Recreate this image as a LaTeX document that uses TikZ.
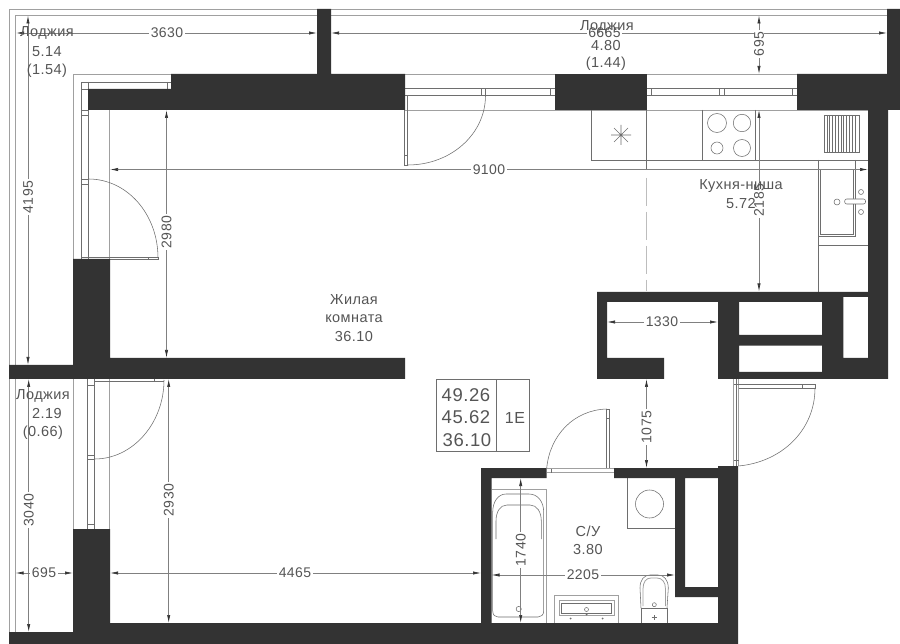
\documentclass[tikz,border=0pt]{standalone}
\usepackage{fontspec}
\setmainfont{Liberation Sans}[LetterSpace=3]
\usetikzlibrary{arrows.meta}
\definecolor{wallc}{HTML}{333333}
\definecolor{inkc}{HTML}{555555}
\definecolor{linec}{HTML}{6E6E6E}
\definecolor{softc}{HTML}{A0A0A0}
\tikzset{
  wall/.style={fill=wallc,draw=none},
  thin line/.style={draw=linec,line width=.55pt},
  soft line/.style={draw=softc,line width=.8pt},
  pale dash/.style={draw=softc!70,line width=.8pt,dash pattern=on 28pt off 6pt},
  dim line/.style={draw=softc!80!black,line width=.65pt,{Latex[length=8pt,width=3.2pt,color=wallc]}-{Latex[length=8pt,width=3.2pt,color=wallc]}},
  dim label/.style={font=\fontsize{14}{16}\selectfont,text=inkc,fill=white,inner xsep=1.5pt,inner ysep=0pt},
  room label/.style={font=\fontsize{14.5}{16}\selectfont,text=inkc,inner sep=0pt},
  table label/.style={font=\fontsize{18.5}{20}\selectfont,text=inkc,inner sep=0pt},
}
\newcommand{\hdim}[5]{\draw[dim line] (#2,#1) -- (#3,#1); \node[dim label] (#5) at (#4,#1) {#5};}
\newcommand{\vdim}[5]{\draw[dim line] (#1,#2) -- (#1,#3); \node[dim label,rotate=90] (#5) at (#1,#4) {#5};}
\begin{document}
\begin{tikzpicture}[x=1pt,y=-1pt]
\useasboundingbox (0,0) rectangle (900,644);
\fill[white] (0,0) rectangle (900,644);
% loggia outlines
\draw[soft line] (887,9) -- (9,9) -- (9,365);
\draw[soft line] (887,15.5) -- (15.5,15.5) -- (15.5,365);
\draw[soft line] (9,379) -- (9,632);
\draw[soft line] (15.5,379) -- (15.5,632);
\draw[soft line] (73,259) -- (73,74) -- (797,74);
\draw[soft line] (73,379) -- (73,529);
\draw[soft line] (109.5,110) -- (109.5,259);
\draw[soft line] (109.5,379) -- (109.5,529);
% left upper window and door
\draw[thin line] (171,82) -- (81.5,82) -- (81.5,259.7) -- (158,259.7) -- (158,257.3) -- (81.5,257.3);
\draw[thin line] (88.5,82) -- (88.5,259);
\draw[thin line] (81.5,89) -- (88.5,89);
\draw[thin line] (81.5,110) -- (88.5,110) (81.5,115) -- (88.5,115) (81.5,179) -- (88.5,179) (81.5,184) -- (88.5,184);
\draw[thin line] (167.5,82) -- (167.5,89) -- (171,89) -- (171,74);
\draw[thin line] (148,257.3) -- (148,259.7);
\draw[thin line] (88.5,179) .. controls (127,179) and (158,214) .. (158,258);
% left lower window and door
\draw[thin line] (87.7,379) -- (87.7,529) (94.5,379) -- (94.5,529);
\draw[thin line] (87.7,385) -- (94.5,385) (87.7,455) -- (94.5,455) (87.7,459) -- (94.5,459) (87.7,524) -- (94.5,524);
\draw[thin line] (94.5,381) -- (164,381) (154.5,379) -- (154.5,381);
\draw[thin line] (164,380) .. controls (164,423) and (133,459) .. (94.5,459);
% top balcony door and window
\draw[thin line] (405,88.5) -- (555,88.5) (405,95.5) -- (555,95.5);
\draw[soft line] (405,110) -- (868,110);
\draw[thin line] (481.7,88.5) -- (481.7,95.5) (485.5,88.5) -- (485.5,95.5) (550,88.5) -- (550,95.5);
\draw[thin line] (404.7,110) -- (404.7,165) -- (407.7,165) -- (407.7,95.5) (404.7,155) -- (407.7,155);
\draw[thin line] (485.5,95.5) .. controls (485.5,134) and (451,165) .. (407.7,165);
\draw[thin line] (647,88.5) -- (797,88.5) (647,95.5) -- (797,95.5);
\draw[thin line] (651.7,88.5) -- (651.7,95.5) (719,88.5) -- (719,95.5) (724,88.5) -- (724,95.5) (792,88.5) -- (792,95.5);
% kitchen
\draw[thin line] (591.5,110) -- (591.5,160) -- (868,160);
\draw[thin line] (646,110) -- (646,170);
\draw[pale dash] (646,178) -- (646,291);
\draw[thin line] (702,110) -- (702,160) (755.7,110) -- (755.7,160);
\draw[thin line] (717,123) circle[radius=9.5] (742,123) circle[radius=8.7] (717,148) circle[radius=6] (742,148) circle[radius=8.5];
\draw[thin line] (611,135) -- (631,135) (621,125) -- (621,145) (614,128) -- (628,142) (614,142) -- (628,128);
\fill[linec] (621,135) circle[radius=1.2];
\draw[thin line] (824,115.3) rectangle (859.7,152);
\foreach \gx in {826.8,829.6,...,857.5} {\draw[thin line] (\gx,115.3) -- (\gx,152);}
\draw[thin line] (818.3,160) -- (818.3,292) (818.3,245.5) -- (868,245.5);
\draw[thin line] (820.3,169.3) rectangle (853.3,234.3);
\draw[thin line] (855.7,160) -- (855.7,236.7) -- (818.3,236.7);
\draw[thin line] (861,192) circle[radius=2.5] (861,212) circle[radius=2.5] (837,202) circle[radius=3];
\draw[thin line,fill=white,rounded corners=2pt] (844.7,199) rectangle (865.5,204);
% door by the shafts
\draw[soft line] (733.7,379) -- (733.7,466) (738.5,379) -- (738.5,466);
\draw[thin line] (736,379) -- (736,466) (733.7,384.5) -- (738.5,384.5) (733.7,460) -- (738.5,460);
\draw[thin line] (738.5,384.5) -- (815,384.5) (738.5,388.7) -- (815,388.7) -- (815,384.5) (802,384.5) -- (802,388.7);
\draw[thin line] (815,388) .. controls (815,430) and (782,462) .. (738.5,466);
% bathroom door
\draw[soft line] (546.5,468.5) -- (613.7,468.5) (546.5,472.5) -- (613.7,472.5);
\draw[thin line] (551,468.5) -- (551,472.5);
\draw[thin line] (606.7,468) -- (606.7,409) -- (609.5,409) -- (609.5,468) (606.7,418) -- (609.5,418);
\draw[thin line] (546.7,468) .. controls (550,435) and (574,410) .. (606.7,409);
% info table
\draw[thin line] (436.7,379.3) rectangle (529.3,451) (496.7,379.3) -- (496.7,451);
% bathroom fixtures
\draw[soft line] (491.5,489) -- (546.5,489) -- (546.5,623);
\draw[thin line] (506,494) -- (529,494) .. controls (538,494) and (543.7,502) .. (543.7,512) -- (543.7,611) .. controls (543.7,615) and (541,617) .. (538,617) -- (498,617) .. controls (495,617) and (492.7,615) .. (492.7,611) -- (492.7,512) .. controls (492.7,502) and (498,494) .. (506,494);
\draw[thin line] (496,539) -- (496,521) .. controls (496,512) and (500,505) .. (507,505) -- (530,505) .. controls (537,505) and (541.3,512) .. (541.3,521) -- (541.3,539);
\draw[thin line] (518.7,609) circle[radius=2.6];
\draw[thin line] (627.7,478) -- (627.7,528) -- (675,528);
\draw[thin line] (649.5,504) circle[radius=14];
\draw[soft line] (554,623) -- (554,595.7) -- (618.3,595.7) -- (618.3,623);
\draw[soft line] (559.3,600.7) rectangle (614,615.7);
\draw[thin line] (561.5,603) rectangle (611.7,613);
\draw[thin line] (586.5,609.5) circle[radius=2];
\fill[linec] (570.5,618.5) circle[radius=1] (602.5,618.5) circle[radius=1] (586.5,614.5) circle[radius=1];
\draw[thin line] (641,608) -- (640,588) .. controls (640,580) and (644,575) .. (650,575) -- (658,575) .. controls (664,575) and (668.3,580) .. (668.3,588) -- (667,608);
\draw[soft line] (643,606) -- (643,589) .. controls (643,582) and (646,578) .. (651,578) -- (657,578) .. controls (662,578) and (665.5,582) .. (665.5,589) -- (665.5,606);
\draw[thin line] (641,623) -- (641,608) -- (667,608) -- (667,623);
\draw[thin line] (654.3,604.7) circle[radius=2];
\draw[thin line] (651.5,617.5) -- (657,617.5) (654.3,615) -- (654.3,620);
% walls
\fill[wall] (88,89) -- (171,89) -- (171,74) -- (317,74) -- (317,9) -- (331,9) -- (331,74) -- (405,74) -- (405,110) -- (88,110) -- cycle;
\fill[wall] (555,74) rectangle (647,110);
\fill[wall,even odd rule] (797,74) -- (887,74) -- (887,9) -- (900,9) -- (900,110) -- (888,110) -- (888,379) -- (718,379) -- (718,302) -- (607,302) -- (607,358) -- (664,358) -- (664,379) -- (597,379) -- (597,292) -- (868,292) -- (868,110) -- (797,110) -- cycle
  (739,302) rectangle (822,335)
  (739,345.7) rectangle (822,372)
  (843.3,297) rectangle (868,358);
\fill[wall] (73,259) -- (110,259) -- (110,358) -- (405,358) -- (405,379) -- (9,379) -- (9,365) -- (73,365) -- cycle;
\fill[wall,even odd rule] (9,632) -- (73,632) -- (73,529) -- (110,529) -- (110,623) -- (481,623) -- (481,468) -- (546.5,468) -- (546.5,478) -- (491.5,478) -- (491.5,623) -- (718,623) -- (718,597) -- (675,597) -- (675,478) -- (614,478) -- (614,468) -- (718,468) -- (718,466) -- (738,466) -- (738,644) -- (9,644) -- cycle
  (685,478) rectangle (718,587);
% dimensions
\hdim{33}{16}{317}{167}{3630}
\hdim{33}{331}{887}{604.5}{6665}
\vdim{759}{15.5}{74}{44}{695}
\hdim{169.5}{110}{868}{489}{9100}
\vdim{166.5}{110}{358}{232}{2980}
\vdim{28}{15.5}{365}{197}{4195}
\vdim{28.7}{379}{632}{510}{3040}
\hdim{573}{15.5}{73}{44}{695}
\hdim{573}{110}{481}{295}{4465}
\vdim{168.7}{379}{623}{500}{2930}
\hdim{322}{607}{718}{662}{1330}
\vdim{646.5}{379}{468}{427}{1075}
\vdim{520.7}{478}{623}{550}{1740}
\hdim{575}{491.5}{675}{583}{2205}
\vdim{759}{110}{291.5}{200}{2185}
% rooms
\node[room label] (l1a) at (47,33) {Лоджия};
\node[room label] (l1b) at (47,52) {5.14};
\node[room label] (l1c) at (47,71) {(1.54)};
\node[room label] (l2a) at (607,27) {Лоджия};
\node[room label] (l2b) at (606,46) {4.80};
\node[room label] (l2c) at (606,64) {(1.44)};
\node[room label] (l3a) at (43,396) {Лоджия};
\node[room label] (l3b) at (47,414) {2.19};
\node[room label] (l3c) at (43,432.5) {(0.66)};
\node[room label] (r1a) at (354,300) {Жилая};
\node[room label] (r1b) at (354,318.5) {комната};
\node[room label] (r1c) at (354,337) {36.10};
\node[room label] (r2a) at (741,186) {Кухня-ниша};
\node[room label] (r2b) at (741,204) {5.72};
\node[room label] (r3a) at (588,531) {С/У};
\node[room label] (r3b) at (588,550) {3.80};
% table
\node[table label] (t1) at (466,395) {49.26};
\node[table label] (t2) at (466,417.5) {45.62};
\node[table label] (t3) at (467,440) {36.10};
\node[table label,font=\fontsize{16}{18}\selectfont] (t4) at (515,417.5) {1E};
\end{tikzpicture}
\end{document}
